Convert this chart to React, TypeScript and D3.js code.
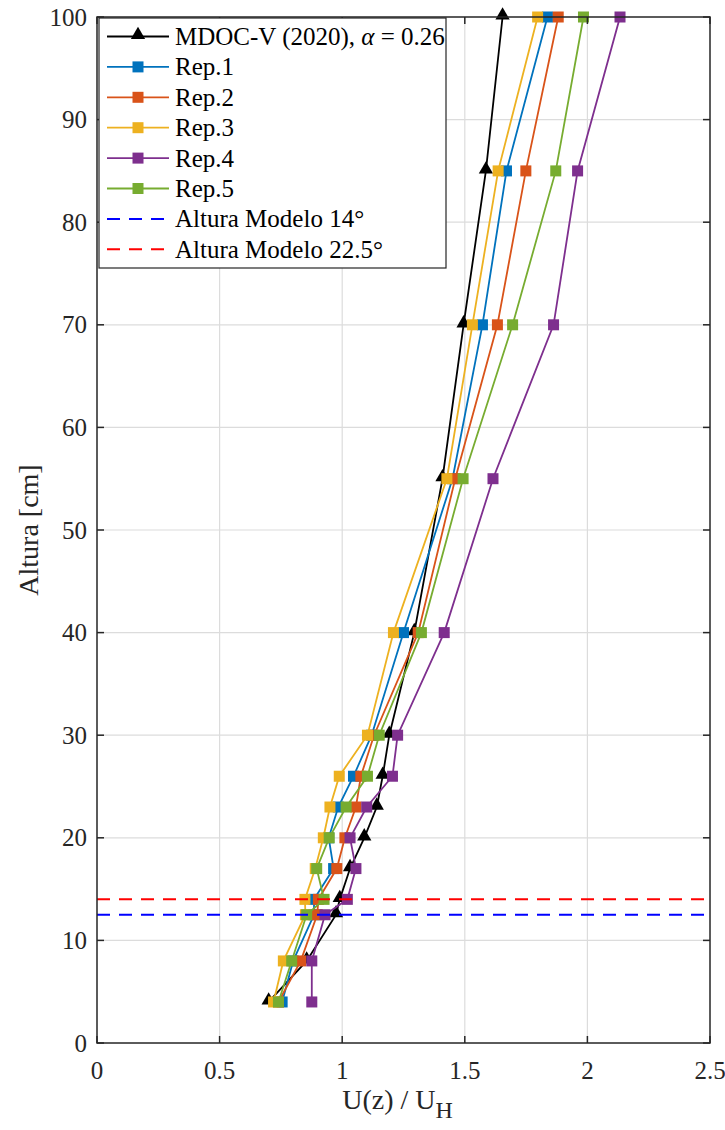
import React from 'react'
import * as d3 from 'd3'

// heights [cm] where the profiles were measured
const heights = [4, 8, 12.5, 14, 17, 20, 23, 26, 30, 40, 55, 70, 85, 100]

// U(z)/UH per series
const mdoc = [0.7, 0.855, 0.975, 0.99, 1.032, 1.09, 1.141, 1.165, 1.192, 1.294, 1.409, 1.495, 1.586, 1.654]
const rep1 = [0.755, 0.8, 0.885, 0.885, 0.965, 0.945, 0.984, 1.046, 1.12, 1.25, 1.45, 1.572, 1.67, 1.837]
const rep2 = [0.74, 0.831, 0.898, 0.903, 0.978, 1.011, 1.056, 1.076, 1.13, 1.31, 1.461, 1.633, 1.749, 1.881]
const rep3 = [0.72, 0.76, 0.85, 0.848, 0.89, 0.923, 0.95, 0.988, 1.103, 1.209, 1.427, 1.531, 1.636, 1.797]
const rep4 = [0.876, 0.876, 0.93, 1.021, 1.056, 1.032, 1.1, 1.205, 1.226, 1.416, 1.615, 1.862, 1.96, 2.133]
const rep5 = [0.74, 0.794, 0.855, 0.926, 0.896, 0.947, 1.016, 1.103, 1.151, 1.323, 1.493, 1.695, 1.871, 1.984]

const repNames = ['Rep.1', 'Rep.2', 'Rep.3', 'Rep.4', 'Rep.5']
const repValues = [rep1, rep2, rep3, rep4, rep5]
const repColors = ['#0072BD', '#D95319', '#EDB120', '#7E2F8E', '#77AC30']

// horizontal reference heights
const refNames = ['Altura Modelo 14°', 'Altura Modelo 22.5°']
const refHeights = [12.5, 14]
const refColors = ['#0000FF', '#FF0000']

const xTicks = [0, 0.5, 1, 1.5, 2, 2.5]
const yTicks = [0, 10, 20, 30, 40, 50, 60, 70, 80, 90, 100]

const W = 725,
  H = 1130
const m = { left: 97, right: 710, top: 17, bottom: 1043 }
const font = '"Liberation Serif", "Times New Roman", serif'
const axisColor = '#262626'

export default function App() {
  const x = d3.scaleLinear().domain([0, 2.5]).range([m.left, m.right])
  const y = d3.scaleLinear().domain([0, 100]).range([m.bottom, m.top])

  const line = (vals: number[]) =>
    d3
      .line<number>()
      .x(d => x(d))
      .y((d, i) => y(heights[i]))(vals) as string

  const tri = d3.symbol().type(d3.symbolTriangle).size(88)()
  const sq = 11

  const legX = 99,
    legY = 18,
    legW = 347,
    legH = 250,
    rowH = 30.4
  const legRows = 8

  return (
    <svg
      width={W}
      height={H}
      style={{ position: 'absolute', left: 0, top: 0, background: '#fff', fontFamily: font }}
      fontFamily={font}
    >
      {/* grid */}
      <g stroke="#dcdcdc" strokeWidth={1.2}>
        {xTicks.slice(1, -1).map(t => (
          <line key={'gx' + t} x1={x(t)} x2={x(t)} y1={m.top} y2={m.bottom} />
        ))}
        {yTicks.slice(1, -1).map(t => (
          <line key={'gy' + t} x1={m.left} x2={m.right} y1={y(t)} y2={y(t)} />
        ))}
      </g>

      {/* MDOC */}
      <path d={line(mdoc)} fill="none" stroke="#000" strokeWidth={1.8} />
      {mdoc.map((v, i) => (
        <path key={'t' + i} d={tri} transform={`translate(${x(v)},${y(heights[i]) - 1.5})`} fill="#000" />
      ))}

      {/* replicates */}
      {repValues.map((vals, k) => (
        <g key={repNames[k]}>
          <path d={line(vals)} fill="none" stroke={repColors[k]} strokeWidth={1.8} />
          {vals.map((v, i) => (
            <rect
              key={i}
              x={x(v) - sq / 2}
              y={y(heights[i]) - sq / 2}
              width={sq}
              height={sq}
              fill={repColors[k]}
            />
          ))}
        </g>
      ))}

      {/* reference heights */}
      {refHeights.map((h, k) => (
        <line
          key={refNames[k]}
          x1={m.left}
          x2={m.right}
          y1={y(h)}
          y2={y(h)}
          stroke={refColors[k]}
          strokeWidth={2}
          strokeDasharray="13,9"
        />
      ))}

      {/* axes box and ticks */}
      <rect
        x={m.left}
        y={m.top}
        width={m.right - m.left}
        height={m.bottom - m.top}
        fill="none"
        stroke={axisColor}
        strokeWidth={1.5}
      />
      <g stroke={axisColor} strokeWidth={1.5}>
        {xTicks.map(t => (
          <g key={'xt' + t}>
            <line x1={x(t)} x2={x(t)} y1={m.bottom} y2={m.bottom - 7} />
            <line x1={x(t)} x2={x(t)} y1={m.top} y2={m.top + 7} />
          </g>
        ))}
        {yTicks.map(t => (
          <g key={'yt' + t}>
            <line x1={m.left} x2={m.left + 7} y1={y(t)} y2={y(t)} />
            <line x1={m.right} x2={m.right - 7} y1={y(t)} y2={y(t)} />
          </g>
        ))}
      </g>
      <g fontSize={25} fill={axisColor}>
        {xTicks.map(t => (
          <text key={'xl' + t} x={x(t)} y={m.bottom + 36} textAnchor="middle">
            {t}
          </text>
        ))}
        {yTicks.map(t => (
          <text key={'yl' + t} x={m.left - 10} y={y(t) + 8.5} textAnchor="end">
            {t}
          </text>
        ))}
      </g>

      {/* axis labels */}
      <text x={(m.left + m.right) / 2 - 6} y={m.bottom + 66} textAnchor="middle" fontSize={28} fill={axisColor}>
        U(z) / U
        <tspan fontSize={24} dy={9}>
          H
        </tspan>
      </text>
      <text
        transform={`translate(38,${(m.top + m.bottom) / 2}) rotate(-90)`}
        textAnchor="middle"
        fontSize={28}
        fill={axisColor}
      >
        Altura [cm]
      </text>

      {/* legend */}
      <rect x={legX} y={legY} width={legW} height={legH} fill="#fff" stroke={axisColor} strokeWidth={1.2} />
      {d3.range(legRows).map(r => {
        const cy = legY + 18.5 + r * rowH
        const x1 = legX + 8,
          x2 = legX + 70
        const mid = (x1 + x2) / 2
        let sym: React.ReactNode = null
        let color = '#000'
        let dash: string | undefined
        let label: React.ReactNode
        if (r === 0) {
          sym = <path d={tri} transform={`translate(${mid},${cy - 1.5})`} fill="#000" />
          label = (
            <>
              MDOC-V (2020), <tspan fontStyle="italic">α</tspan> = 0.26
            </>
          )
        } else if (r <= 5) {
          color = repColors[r - 1]
          sym = <rect x={mid - sq / 2} y={cy - sq / 2} width={sq} height={sq} fill={color} />
          label = repNames[r - 1]
        } else {
          color = refColors[r - 6]
          dash = '13,9'
          label = refNames[r - 6]
        }
        return (
          <g key={'lg' + r}>
            <line
              x1={x1}
              x2={x2}
              y1={cy}
              y2={cy}
              stroke={color}
              strokeWidth={dash ? 2 : 1.8}
              strokeDasharray={dash}
            />
            {sym}
            <text x={legX + 76} y={cy + 8.5} fontSize={25} fill="#000">
              {label}
            </text>
          </g>
        )
      })}
    </svg>
  )
}
